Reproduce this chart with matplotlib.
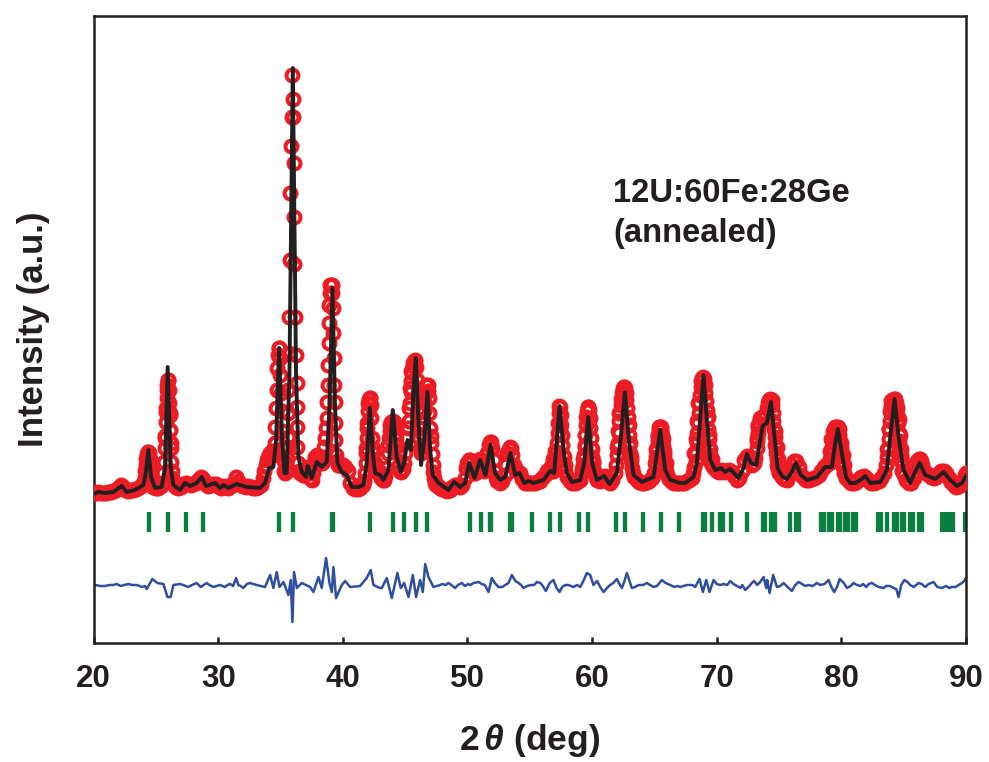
import matplotlib
matplotlib.use("Agg")
import matplotlib.pyplot as plt

plt.rcParams['font.family'] = ['Liberation Sans', 'DejaVu Sans']
plt.rcParams['font.weight'] = 'bold'
plt.rcParams['mathtext.fontset'] = 'custom'
plt.rcParams['mathtext.it'] = 'Liberation Sans:italic:bold'
plt.rcParams['mathtext.rm'] = 'Liberation Sans:bold'

# observed pattern (intensity in arbitrary units)
obs_x = [20.0, 20.2, 20.4, 20.6, 20.8, 21.0, 21.2, 21.4, 21.6, 21.8,
         22.0, 22.2, 22.4, 22.6, 22.8, 23.0, 23.2, 23.4, 23.6, 23.8,
         24.0, 24.1, 24.15, 24.2, 24.25, 24.3, 24.35, 24.4, 24.45, 24.5,
         24.55, 24.6, 24.65, 24.7, 24.8, 25.0, 25.2, 25.4, 25.5, 25.6,
         25.65, 25.7, 25.74, 25.78, 25.82, 25.86, 25.9, 25.94, 25.98, 26.02,
         26.06, 26.1, 26.14, 26.18, 26.22, 26.26, 26.3, 26.4, 26.5, 26.6,
         26.8, 27.0, 27.2, 27.4, 27.6, 27.8, 28.0, 28.2, 28.4, 28.6,
         28.8, 29.0, 29.2, 29.4, 29.6, 29.8, 30.0, 30.2, 30.4, 30.6,
         30.8, 31.0, 31.2, 31.4, 31.6, 31.8, 32.0, 32.2, 32.4, 32.6,
         32.8, 33.0, 33.2, 33.4, 33.6, 33.7, 33.8, 33.9, 34.0, 34.1,
         34.2, 34.3, 34.4, 34.5, 34.55, 34.6, 34.65, 34.7, 34.75, 34.8,
         34.85, 34.9, 34.95, 35.0, 35.05, 35.1, 35.15, 35.2, 35.25, 35.3,
         35.4, 35.5, 35.55, 35.6, 35.62, 35.63, 35.64, 35.66, 35.7, 35.75,
         35.8, 35.85, 35.9, 35.96, 36.0, 36.03, 36.06, 36.09, 36.12, 36.15,
         36.28, 36.3, 36.31, 36.32, 36.33, 36.4, 36.5, 36.6, 36.7, 36.8,
         36.9, 37.0, 37.1, 37.2, 37.3, 37.4, 37.5, 37.6, 37.7, 37.8,
         37.9, 38.0, 38.1, 38.2, 38.3, 38.4, 38.5, 38.6, 38.65, 38.7,
         38.75, 38.8, 38.83, 38.86, 38.89, 38.92, 38.96, 39.0, 39.05, 39.1,
         39.15, 39.2, 39.25, 39.28, 39.31, 39.34, 39.37, 39.4, 39.45, 39.5,
         39.6, 39.7, 39.8, 39.9, 40.0, 40.2, 40.4, 40.6, 40.8, 41.0,
         41.2, 41.4, 41.6, 41.7, 41.78, 41.84, 41.88, 41.92, 41.96, 42.0,
         42.05, 42.1, 42.15, 42.2, 42.25, 42.3, 42.35, 42.4, 42.45, 42.5,
         42.6, 42.7, 42.8, 42.9, 43.0, 43.1, 43.2, 43.3, 43.4, 43.5,
         43.6, 43.65, 43.7, 43.75, 43.8, 43.9, 44.0, 44.1, 44.2, 44.25,
         44.3, 44.35, 44.4, 44.5, 44.6, 44.7, 44.8, 44.9, 45.0, 45.1,
         45.2, 45.3, 45.4, 45.45, 45.5, 45.55, 45.6, 45.65, 45.7, 45.8,
         45.9, 45.95, 46.0, 46.05, 46.1, 46.15, 46.2, 46.3, 46.35, 46.4,
         46.45, 46.5, 46.55, 46.6, 46.7, 46.8, 46.85, 46.9, 46.95, 47.0,
         47.05, 47.1, 47.15, 47.2, 47.25, 47.3, 47.4, 47.5, 47.6, 47.8,
         48.0, 48.2, 48.4, 48.6, 48.8, 49.0, 49.2, 49.4, 49.6, 49.8,
         49.9, 50.0, 50.1, 50.2, 50.3, 50.4, 50.5, 50.6, 50.7, 50.8,
         50.9, 51.0, 51.1, 51.2, 51.3, 51.4, 51.5, 51.6, 51.7, 51.8,
         51.9, 52.0, 52.1, 52.2, 52.3, 52.4, 52.6, 52.8, 53.0, 53.1,
         53.2, 53.3, 53.4, 53.5, 53.6, 53.7, 53.8, 53.9, 54.0, 54.2,
         54.4, 54.6, 54.8, 55.0, 55.2, 55.4, 55.6, 55.8, 56.0, 56.2,
         56.4, 56.6, 56.7, 56.8, 56.9, 57.0, 57.08, 57.14, 57.2, 57.25,
         57.3, 57.34, 57.38, 57.42, 57.47, 57.52, 57.57, 57.62, 57.68, 57.75,
         57.85, 58.0, 58.2, 58.4, 58.6, 58.8, 59.0, 59.2, 59.3, 59.35,
         59.4, 59.45, 59.5, 59.55, 59.6, 59.65, 59.7, 59.75, 59.8, 59.85,
         59.9, 59.95, 60.0, 60.05, 60.1, 60.2, 60.3, 60.4, 60.6, 60.8,
         61.0, 61.2, 61.4, 61.6, 61.8, 61.9, 62.0, 62.1, 62.15, 62.2,
         62.25, 62.3, 62.35, 62.4, 62.45, 62.5, 62.55, 62.6, 62.65, 62.7,
         62.75, 62.8, 62.85, 62.9, 62.95, 63.0, 63.05, 63.1, 63.2, 63.3,
         63.4, 63.6, 63.8, 64.0, 64.2, 64.4, 64.6, 64.8, 65.0, 65.1,
         65.15, 65.2, 65.25, 65.3, 65.35, 65.4, 65.45, 65.5, 65.55, 65.6,
         65.65, 65.7, 65.75, 65.8, 65.85, 65.9, 66.0, 66.2, 66.4, 66.6,
         66.8, 67.0, 67.2, 67.4, 67.6, 67.8, 68.0, 68.1, 68.2, 68.3,
         68.35, 68.4, 68.45, 68.5, 68.55, 68.6, 68.65, 68.7, 68.75, 68.8,
         68.9, 69.0, 69.05, 69.1, 69.15, 69.2, 69.25, 69.3, 69.35, 69.4,
         69.45, 69.5, 69.6, 69.8, 70.0, 70.2, 70.4, 70.6, 70.8, 71.0,
         71.2, 71.4, 71.6, 71.8, 72.0, 72.2, 72.4, 72.6, 72.8, 73.0,
         73.1, 73.2, 73.25, 73.3, 73.35, 73.4, 73.5, 73.6, 73.7, 73.8,
         73.9, 74.0, 74.1, 74.2, 74.3, 74.4, 74.45, 74.5, 74.55, 74.6,
         74.65, 74.7, 74.75, 74.8, 74.85, 74.9, 75.0, 75.2, 75.4, 75.6,
         75.8, 76.0, 76.2, 76.4, 76.6, 76.8, 77.0, 77.2, 77.4, 77.6,
         77.8, 78.0, 78.2, 78.4, 78.6, 78.8, 79.0, 79.1, 79.2, 79.25,
         79.3, 79.35, 79.4, 79.45, 79.5, 79.6, 79.7, 79.8, 79.85, 79.9,
         79.95, 80.0, 80.05, 80.1, 80.2, 80.4, 80.6, 80.8, 81.0, 81.2,
         81.4, 81.6, 81.8, 82.0, 82.2, 82.4, 82.6, 82.8, 83.0, 83.2,
         83.4, 83.6, 83.7, 83.75, 83.8, 83.85, 83.9, 83.95, 84.0, 84.05,
         84.1, 84.2, 84.3, 84.4, 84.45, 84.5, 84.55, 84.6, 84.65, 84.7,
         84.75, 84.8, 84.9, 85.0, 85.2, 85.4, 85.6, 85.8, 85.9, 86.0,
         86.1, 86.2, 86.3, 86.4, 86.5, 86.6, 86.8, 87.0, 87.2, 87.4,
         87.6, 87.8, 88.0, 88.2, 88.4, 88.6, 88.8, 89.0, 89.2, 89.4,
         89.6, 89.8, 89.9, 90.0]
obs_y = [150, 150, 151, 150, 150, 150, 151, 151, 152, 153,
         155, 158, 156, 153, 152, 153, 153, 154, 155, 157,
         160, 165, 172, 178, 184, 189, 191, 191, 190, 184,
         176, 170, 164, 160, 156, 155, 155, 157, 160, 170,
         181, 195, 207, 221, 231, 245, 253, 263, 263, 253,
         240, 228, 213, 195, 181, 172, 165, 160, 157, 156,
         155, 156, 159, 160, 159, 158, 159, 160, 163, 166,
         164, 159, 157, 158, 159, 159, 157, 155, 157, 156,
         155, 157, 160, 166, 162, 158, 157, 156, 157, 156,
         155, 155, 156, 158, 165, 172, 178, 183, 186, 188,
         190, 192, 190, 188, 200, 216, 235, 253, 275, 288,
         295, 295, 285, 268, 250, 232, 212, 195, 182, 172,
         170, 172, 185, 196, 206, 230, 253, 290, 326, 383,
         450, 497, 526, 568, 544, 526, 480, 426, 379, 326,
         288, 260, 236, 216, 196, 180, 172, 170, 170, 168,
         168, 170, 172, 176, 170, 165, 163, 170, 180, 186,
         188, 186, 182, 180, 180, 186, 196, 205, 215, 225,
         241, 258, 278, 300, 320, 338, 350, 358, 358, 358,
         350, 335, 310, 285, 258, 241, 220, 203, 188, 182,
         178, 178, 178, 178, 178, 176, 172, 160, 155, 154,
         154, 155, 158, 162, 170, 180, 190, 205, 220, 232,
         240, 244, 245, 245, 238, 225, 205, 190, 180, 175,
         172, 172, 172, 172, 168, 165, 163, 163, 167, 175,
         190, 198, 205, 212, 218, 221, 222, 221, 216, 210,
         204, 197, 190, 178, 172, 171, 174, 180, 190, 205,
         215, 222, 240, 251, 262, 270, 277, 280, 282, 283,
         276, 263, 250, 232, 215, 205, 195, 190, 198, 208,
         220, 232, 241, 250, 258, 258, 252, 245, 230, 215,
         207, 200, 189, 178, 171, 165, 160, 158, 157, 155,
         154, 153, 152, 153, 156, 158, 158, 156, 158, 165,
         175, 180, 183, 183, 180, 175, 170, 170, 173, 178,
         182, 184, 182, 176, 172, 175, 182, 190, 198, 201,
         201, 195, 183, 172, 165, 162, 160, 162, 168, 178,
         190, 194, 196, 195, 188, 178, 175, 173, 172, 170,
         164, 160, 160, 160, 160, 160, 161, 162, 165, 168,
         172, 175, 173, 172, 172, 175, 182, 190, 200, 210,
         220, 230, 237, 236, 228, 218, 208, 198, 188, 178,
         172, 166, 162, 160, 160, 161, 163, 170, 178, 188,
         198, 208, 218, 226, 232, 236, 236, 233, 225, 215,
         205, 195, 186, 180, 175, 170, 166, 163, 162, 165,
         167, 163, 160, 163, 170, 178, 188, 200, 210, 222,
         230, 238, 244, 250, 253, 255, 256, 256, 255, 250,
         243, 235, 226, 218, 208, 198, 190, 183, 175, 170,
         166, 163, 161, 160, 160, 161, 162, 165, 170, 178,
         186, 194, 202, 208, 213, 216, 216, 216, 213, 208,
         202, 196, 188, 182, 176, 172, 168, 164, 161, 160,
         160, 160, 160, 160, 162, 163, 165, 170, 176, 182,
         190, 200, 210, 220, 230, 240, 248, 256, 262, 265,
         266, 264, 258, 250, 242, 233, 224, 214, 204, 195,
         188, 182, 178, 175, 172, 171, 173, 171, 172, 173,
         171, 167, 163, 165, 172, 183, 187, 184, 178, 180,
         185, 195, 202, 210, 216, 220, 225, 226, 226, 225,
         228, 235, 240, 243, 244, 243, 238, 230, 222, 214,
         206, 198, 190, 184, 178, 174, 170, 166, 164, 163,
         170, 178, 182, 182, 176, 168, 165, 163, 163, 164,
         165, 166, 168, 172, 176, 178, 180, 184, 190, 196,
         200, 205, 210, 214, 216, 216, 216, 214, 208, 202,
         195, 188, 182, 176, 170, 165, 162, 160, 160, 161,
         164, 166, 167, 165, 162, 160, 160, 161, 162, 165,
         170, 178, 186, 194, 204, 214, 222, 230, 237, 241,
         243, 244, 244, 240, 235, 228, 220, 210, 202, 194,
         188, 182, 172, 168, 163, 160, 160, 165, 172, 178,
         182, 184, 184, 182, 178, 172, 170, 168, 166, 165,
         166, 170, 172, 172, 170, 165, 161, 158, 156, 157,
         160, 164, 168, 170]

# extra observed points on the peak skirts
skirt_x = [56.8, 56.9, 57.05, 57.75, 57.85, 59.2, 59.3, 59.4, 60.0, 60.1,
           62.0, 62.1, 62.2, 62.95, 63.05, 63.15, 65.05, 65.15, 65.25, 65.7,
           65.8, 65.9, 68.2, 68.3, 68.4, 68.5, 69.3, 69.4, 69.5, 69.6,
           73.2, 73.3, 74.7, 74.8, 74.9, 79.1, 79.2, 79.3, 80.0, 80.1,
           80.2, 83.7, 83.8, 83.9, 84.0, 84.6, 84.7, 84.8, 84.9, 41.85,
           41.92, 42.45, 42.55, 45.3, 45.4, 45.5, 46.1, 46.2, 25.7, 25.8,
           25.9, 26.15, 26.25]
skirt_y = [178, 184, 192, 186, 178, 174, 184, 196, 194, 182,
           196, 212, 230, 218, 200, 186, 180, 194, 206, 204,
           192, 180, 190, 204, 222, 240, 226, 208, 194, 184,
           205, 218, 212, 196, 184, 192, 204, 212, 200, 188,
           178, 194, 214, 232, 242, 224, 208, 194, 182, 195,
           215, 195, 180, 235, 255, 272, 235, 215, 205, 235,
           258, 230, 200]

# calculated pattern
calc_x = [20.0, 20.39, 20.92, 21.59, 22.26, 22.66, 23.33, 24.0, 24.19, 24.4,
          24.62, 24.94, 25.47, 25.74, 25.95, 26.19, 26.41, 26.94, 27.34, 27.75,
          28.28, 28.68, 29.03, 29.75, 30.15, 30.42, 30.82, 31.49, 32.29, 33.36,
          33.76, 34.09, 34.43, 34.65, 34.89, 35.13, 35.32, 35.5, 35.72, 35.99,
          36.25, 36.44, 36.71, 37.05, 37.19, 37.51, 37.91, 38.31, 38.71, 38.93,
          39.17, 39.38, 39.57, 39.92, 40.32, 40.72, 41.26, 41.66, 41.92, 42.17,
          42.41, 42.59, 42.99, 43.26, 43.66, 44.01, 44.33, 44.65, 44.92, 45.19,
          45.46, 45.67, 45.86, 46.07, 46.28, 46.53, 46.79, 47.01, 47.22, 47.68,
          48.48, 48.93, 49.41, 49.82, 50.14, 50.57, 51.02, 51.45, 51.85, 52.22,
          52.62, 53.03, 53.45, 53.83, 54.18, 54.55, 54.9, 55.3, 56.1, 56.64,
          56.96, 57.39, 57.71, 57.98, 58.38, 59.05, 59.37, 59.69, 60.01, 60.38,
          60.97, 61.4, 61.99, 62.31, 62.63, 62.95, 63.33, 63.99, 64.93, 65.47,
          65.87, 66.27, 67.07, 67.47, 68.14, 68.41, 68.68, 68.94, 69.21, 69.48,
          69.88, 70.33, 70.68, 71.08, 71.75, 72.15, 72.42, 72.74, 73.17, 73.49,
          73.68, 74.03, 74.35, 74.61, 74.88, 75.23, 75.63, 76.03, 76.35, 76.75,
          77.24, 78.04, 78.71, 79.24, 79.46, 79.72, 80.04, 80.37, 80.71, 81.11,
          81.52, 81.92, 82.32, 83.12, 83.66, 83.98, 84.27, 84.59, 84.99, 85.53,
          85.88, 86.28, 86.73, 87.13, 87.54, 88.2, 88.74, 89.27, 89.68, 90.0]
calc_y = [149, 151, 150, 151, 157, 151, 153, 158, 170, 193,
          166, 155, 156, 176, 276, 176, 158, 153, 160, 157,
          160, 166, 157, 160, 155, 158, 155, 159, 156, 155,
          160, 175, 176, 203, 295, 203, 170, 170, 270, 575,
          270, 186, 171, 166, 177, 165, 181, 176, 181, 236,
          355, 236, 180, 171, 168, 156, 156, 158, 180, 235,
          190, 170, 168, 163, 173, 233, 186, 171, 180, 203,
          193, 253, 285, 220, 178, 203, 251, 193, 168, 160,
          153, 161, 156, 160, 180, 165, 183, 168, 198, 170,
          163, 166, 190, 168, 170, 160, 162, 160, 163, 172,
          170, 237, 193, 170, 161, 163, 180, 226, 180, 163,
          167, 159, 170, 206, 251, 203, 168, 161, 166, 213,
          173, 163, 160, 160, 166, 180, 226, 268, 223, 183,
          173, 175, 171, 174, 165, 175, 189, 180, 178, 203,
          217, 220, 241, 210, 175, 167, 164, 171, 180, 168,
          163, 166, 176, 176, 196, 214, 190, 166, 160, 160,
          163, 167, 160, 161, 173, 213, 244, 206, 173, 160,
          170, 180, 168, 166, 164, 171, 163, 157, 160, 167]

# Bragg positions
bragg_pos = [24.45, 25.98, 27.42, 28.79, 34.89, 36.01, 39.1, 39.2, 42.19, 44.04,
             44.95, 45.88, 46.79, 50.24, 51.05, 51.82, 51.9, 53.43, 53.59, 55.17,
             56.64, 57.39, 58.94, 59.71, 61.91, 62.68, 64.05, 65.49, 66.94, 68.89,
             69.1, 69.66, 70.23, 70.49, 71.11, 72.45, 73.7, 73.89, 74.35, 74.64,
             75.87, 76.35, 76.57, 78.33, 78.6, 79.0, 79.22, 79.7, 79.91, 80.26,
             80.53, 80.9, 81.17, 82.91, 83.17, 83.63, 84.19, 84.46, 84.83, 85.05,
             85.48, 85.74, 86.2, 86.47, 88.07, 88.39, 88.69, 88.95, 89.92]

# observed minus calculated, offset below the pattern
diff_x = [19.99, 20.52, 21.33, 21.86, 22.18, 22.8, 23.46, 23.87, 24.13, 24.27,
          24.72, 25.12, 25.61, 25.93, 26.19, 26.41, 26.94, 27.61, 28.28, 28.6,
          29.08, 29.62, 30.15, 30.55, 30.96, 31.44, 31.62, 32.03, 32.56, 33.1,
          33.76, 34.17, 34.43, 34.7, 34.92, 35.24, 35.64, 35.82, 35.96, 36.09,
          36.31, 36.71, 37.38, 37.64, 38.05, 38.31, 38.66, 38.93, 39.12, 39.25,
          39.46, 39.92, 40.19, 40.59, 41.39, 41.92, 42.24, 42.46, 42.99, 43.13,
          43.53, 43.93, 44.38, 44.65, 44.92, 45.27, 45.62, 45.88, 46.2, 46.42,
          46.61, 46.87, 47.27, 47.81, 48.48, 49.01, 49.55, 50.22, 50.89, 51.69,
          51.96, 52.49, 53.03, 53.56, 54.1, 54.5, 55.57, 56.29, 56.9, 57.39,
          57.84, 59.05, 59.58, 59.85, 60.11, 60.92, 61.45, 61.99, 62.39, 62.79,
          63.19, 63.73, 64.4, 64.93, 65.6, 66.27, 67.07, 67.61, 68.27, 68.62,
          68.89, 69.16, 69.42, 69.75, 70.28, 71.08, 71.62, 72.29, 72.82, 73.49,
          73.76, 73.97, 74.24, 74.53, 74.83, 75.36, 76.03, 76.57, 77.1, 78.04,
          78.97, 79.43, 79.86, 80.45, 80.98, 81.52, 82.45, 83.39, 84.19, 84.59,
          85.05, 85.53, 86.2, 86.73, 87.4, 88.07, 88.87, 89.68, 90.0,
          20.2, 20.9, 21.6, 22.45, 23.1, 23.7, 27.2, 27.9, 29.3, 29.9,
          30.35, 30.75, 31.2, 31.8, 32.3, 32.8, 33.4, 47.55, 48.0, 48.25,
          48.7, 49.25, 49.8, 50.05, 50.5, 51.15, 51.4, 52.2, 52.8, 53.3,
          53.85, 54.3, 54.8, 55.1, 55.35, 55.85, 56.05, 56.6, 57.15, 57.6,
          58.1, 58.5, 58.8, 59.3, 60.4, 60.7, 61.2, 61.7, 62.15, 62.6,
          63.45, 64.1, 64.65, 65.2, 65.9, 66.6, 66.85, 67.35, 67.85, 68.05,
          70.0, 70.55, 70.85, 71.35, 71.9, 72.05, 72.55, 73.0, 73.25, 74.05,
          74.7, 75.1, 75.7, 76.3, 76.85, 77.35, 77.7, 78.3, 78.65, 79.2,
          79.65, 80.2, 80.75, 81.25, 81.75, 82.0, 82.2, 82.7, 83.0, 83.6,
          83.9, 84.4, 84.8, 85.3, 85.8, 86.0, 86.45, 87.0, 87.7, 88.4,
          88.65, 89.15, 89.4, 89.85]
diff_y = [57, 57, 58, 59, 57, 59, 58, 56, 57, 54,
          64, 60, 59, 46, 46, 58, 59, 56, 60, 56,
          60, 56, 58, 56, 59, 65, 58, 55, 60, 58,
          56, 68, 55, 71, 56, 61, 48, 63, 21, 71,
          55, 60, 56, 51, 66, 55, 85, 60, 51, 76,
          45, 58, 62, 56, 57, 65, 73, 58, 55, 55,
          65, 45, 70, 55, 60, 46, 68, 46, 63, 51,
          79, 66, 56, 58, 60, 55, 60, 58, 61, 51,
          65, 56, 58, 68, 60, 55, 61, 52, 63, 51,
          58, 56, 70, 68, 58, 51, 58, 64, 55, 70,
          55, 58, 60, 56, 63, 58, 56, 58, 56, 64,
          51, 63, 51, 63, 58, 62, 57, 53, 60, 61,
          66, 55, 50, 68, 56, 60, 52, 61, 57, 60,
          63, 51, 64, 55, 60, 57, 60, 55, 55, 46,
          63, 58, 60, 56, 61, 55, 56, 60, 65,
          58, 57, 58, 58, 58, 57, 58, 58, 58, 57,
          57, 58, 57, 57, 59, 59, 57, 57, 59, 58,
          58, 58, 57, 59, 60, 59, 58, 60, 56, 60,
          62, 58, 57, 58, 58, 60, 57, 60, 55, 56,
          58, 56, 58, 62, 62, 55, 55, 60, 60, 62,
          56, 58, 58, 57, 60, 56, 57, 57, 58, 58,
          59, 59, 58, 59, 55, 58, 56, 62, 58, 63,
          61, 57, 56, 58, 59, 58, 57, 58, 59, 56,
          56, 60, 57, 58, 59, 56, 59, 58, 56, 57,
          57, 54, 58, 61, 56, 58, 59, 59, 56, 57,
          55, 56, 58, 62]

xticks = [20, 30, 40, 50, 60, 70, 80, 90]

fig = plt.figure(figsize=(9.89, 7.62), dpi=100)
ax = fig.add_axes([93.5 / 989, 119 / 762, 872.5 / 989, 627 / 762])

diff_pts = sorted(zip(diff_x, diff_y))
ax.plot([p[0] for p in diff_pts], [p[1] for p in diff_pts], color='#2e4fa0', lw=1.8, zorder=2)
ax.vlines(bragg_pos, 111, 131, color='#0a7f3f', lw=3.1, zorder=2)
ax.plot(obs_x + skirt_x, obs_y + skirt_y, 'o', mfc='none', mec='#ed1c24', ms=8.6, mew=2.9, zorder=3)
ax.plot(calc_x, calc_y, color='#231f20', lw=2.8, zorder=4)

ax.set_xlim(20, 90)
ax.set_ylim(0, 627)
ax.set_xticks(xticks)
ax.set_yticks([])
ax.tick_params(axis='x', direction='in', length=4.5, width=1.8, labelsize=22.5, pad=15, color='#231f20')
for s in ax.spines.values():
    s.set_linewidth(1.8)
    s.set_color('#231f20')

ax.set_xlabel(r'2$\,\mathit{\theta}$ (deg)', fontsize=25.5, fontweight='bold', color='#231f20', labelpad=20)
ax.set_ylabel('Intensity (a.u.)', fontsize=25, fontweight='bold', color='#231f20', labelpad=31)
for lab in ax.get_xticklabels():
    lab.set_color('#231f20')

ax.text(61.7, 465, '12U:60Fe:28Ge\n(annealed)', fontsize=23.6, fontweight='bold',
        color='#231f20', ha='left', va='top', linespacing=1.38)

fig.savefig('out.png', dpi=100)
